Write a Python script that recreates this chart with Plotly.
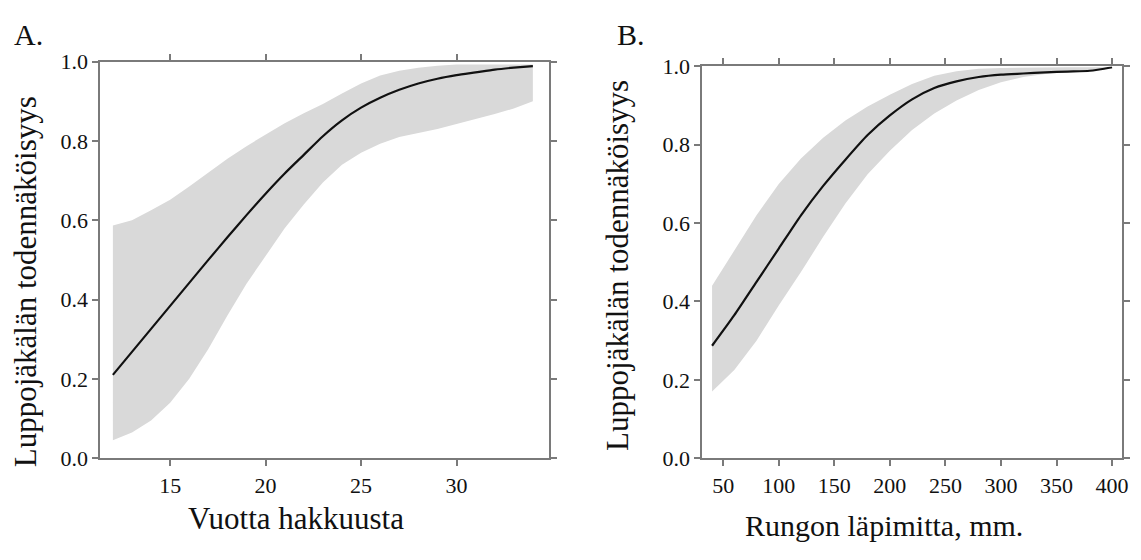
import plotly.graph_objects as go

# Panel A: years since logging
a_x = [12, 13, 14, 15, 16, 17, 18, 19, 20, 21, 22, 23, 24, 25, 26, 27, 28, 29, 30, 31, 32, 33, 34]
a_mean = [0.21, 0.268, 0.326, 0.384, 0.442, 0.50, 0.557, 0.613, 0.667, 0.718, 0.765, 0.812, 0.852,
          0.884, 0.909, 0.929, 0.945, 0.957, 0.966, 0.973, 0.980, 0.985, 0.989]
a_upper = [0.587, 0.60, 0.625, 0.652, 0.685, 0.72, 0.755, 0.787, 0.815, 0.845, 0.87, 0.893, 0.92,
           0.945, 0.965, 0.977, 0.985, 0.99, 0.993, 0.993, 0.993, 0.993, 0.993]
a_lower = [0.045, 0.065, 0.095, 0.14, 0.20, 0.275, 0.36, 0.44, 0.51, 0.58, 0.64, 0.695, 0.74,
           0.77, 0.793, 0.81, 0.82, 0.83, 0.843, 0.856, 0.868, 0.882, 0.90]

# Panel B: trunk diameter (mm)
b_x = [40, 60, 80, 100, 120, 140, 160, 180, 200, 220, 240, 260, 280, 300, 320, 340, 360, 380, 400]
b_mean = [0.287, 0.365, 0.45, 0.535, 0.62, 0.695, 0.762, 0.825, 0.875, 0.916, 0.945, 0.962, 0.973,
          0.979, 0.982, 0.985, 0.987, 0.989, 0.998]
b_upper = [0.44, 0.53, 0.62, 0.70, 0.765, 0.818, 0.862, 0.898, 0.928, 0.955, 0.976, 0.988, 0.994,
           0.996, 0.997, 0.997, 0.998, 0.998, 0.998]
b_lower = [0.17, 0.225, 0.30, 0.39, 0.475, 0.565, 0.65, 0.725, 0.785, 0.838, 0.88, 0.913, 0.94,
           0.96, 0.973, 0.981, 0.986, 0.99, 0.995]

a_xticks = [15, 20, 25, 30]
b_xticks = [50, 100, 150, 200, 250, 300, 350, 400]
y_ticks = [0.0, 0.2, 0.4, 0.6, 0.8, 1.0]

y_title = "Luppojäkälän todennäköisyys"
a_xtitle = "Vuotta hakkuusta"
b_xtitle = "Rungon läpimitta, mm."

W, H = 1141, 560
FONT = "Liberation Serif"
BAND = "#d9d9d9"
AXC = "#7a7a7a"

fig = go.Figure()

def add_panel(x, mean, upper, lower, xa, ya):
    fig.add_trace(go.Scatter(x=x + x[::-1], y=upper + lower[::-1], fill="toself",
                             fillcolor=BAND, line=dict(width=0),
                             mode="lines", hoverinfo="skip", showlegend=False, xaxis=xa, yaxis=ya))
    fig.add_trace(go.Scatter(x=x, y=mean, mode="lines",
                             line=dict(color="#111111", width=2.2, shape="spline", smoothing=0.6),
                             showlegend=False, xaxis=xa, yaxis=ya))

add_panel(a_x, a_mean, a_upper, a_lower, "x", "y")
add_panel(b_x, b_mean, b_upper, b_lower, "x2", "y2")

axis_common = dict(showline=True, linecolor=AXC, linewidth=2, mirror="ticks", ticks="outside",
                   ticklen=6, tickwidth=1.5, tickcolor=AXC, showgrid=False, zeroline=False,
                   tickfont=dict(family=FONT, size=22, color="#111111"))

def px_x(p):
    return p / W

def px_y(p):
    return 1 - p / H

fig.update_layout(
    width=W, height=H, margin=dict(l=0, r=0, t=0, b=0),
    paper_bgcolor="white", plot_bgcolor="white",
    xaxis=dict(domain=[px_x(101), px_x(552)], range=[11.35, 34.85], tickvals=a_xticks,
               anchor="y", **axis_common),
    yaxis=dict(domain=[px_y(467), px_y(52)], range=[0, 1.0], tickvals=y_ticks, tickformat=".1f",
               anchor="x", **axis_common),
    xaxis2=dict(domain=[px_x(706), px_x(1128)], range=[31.2, 409], tickvals=b_xticks,
                anchor="y2", **axis_common),
    yaxis2=dict(domain=[px_y(467), px_y(57)], range=[0, 1.0], tickvals=y_ticks, tickformat=".1f",
                anchor="x2", **axis_common),
)

def ann(text, x, y, size, angle=0):
    fig.add_annotation(text=text, x=px_x(x), y=px_y(y), xref="paper", yref="paper",
                       showarrow=False, textangle=angle, xanchor="center", yanchor="middle",
                       font=dict(family=FONT, size=size, color="#111111"))

ann("A.", 29, 24, 30)
ann("B.", 634, 24, 30)
ann(y_title, 26, 282, 31, -90)
ann(y_title, 620, 265, 31, -90)
ann(a_xtitle, 298, 530, 31)
ann(b_xtitle, 889, 538, 30)

fig.write_html("out.html")
